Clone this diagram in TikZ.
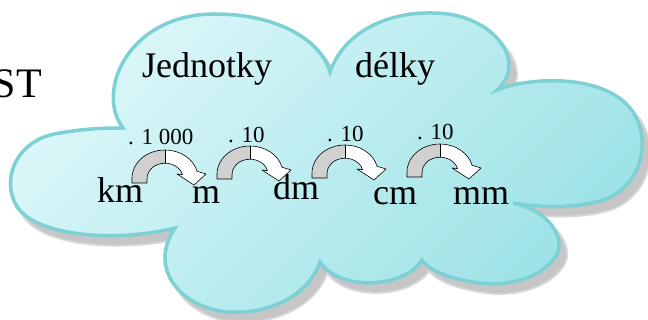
\documentclass[tikz,border=0pt]{standalone}
\usepackage{fontspec}
\setmainfont{Liberation Serif}
\definecolor{cloudedge}{RGB}{125,208,212}
\definecolor{cloudlight}{RGB}{220,247,249}
\definecolor{clouddark}{RGB}{155,226,229}
\definecolor{cloudshadow}{RGB}{198,198,198}
\definecolor{hopgray}{RGB}{208,208,208}

\newcommand\cloudpath{(123,128) .. controls (95,92) and (128,14) .. (215,14)
  .. controls (280,14) and (322,42) .. (330,72)
  .. controls (345,30) and (390,12) .. (432,13)
  .. controls (490,12) and (530,60) .. (497,90)
  .. controls (525,78) and (600,72) .. (630,108)
  .. controls (655,140) and (640,190) .. (600,201)
  .. controls (575,208) and (540,208) .. (513,203)
  .. controls (555,212) and (568,245) .. (553,260)
  .. controls (535,282) and (500,286) .. (480,283)
  .. controls (455,280) and (430,272) .. (422,260)
  .. controls (405,288) and (340,292) .. (320,262)
  .. controls (305,305) and (250,318) .. (215,310)
  .. controls (175,300) and (150,265) .. (175,228)
  .. controls (120,242) and (35,238) .. (16,205)
  .. controls (0,175) and (20,138) .. (60,133)
  .. controls (88,128) and (110,128) .. (123,128) -- cycle}
\newcommand\hoppath{(0,0) -- (0,5) arc[start angle=180, end angle=14, x radius=33, y radius=28]
  -- (74,9) -- (62,-2) -- (45,9) -- (50.5,8.4)
  arc[start angle=14, end angle=180, x radius=18, y radius=15] -- (15,0) -- cycle}

\tikzset{
  hop/.pic={
    \begin{scope}[x=1pt, y=1pt]
      \fill[white] \hoppath;
      \begin{scope}
        \clip (-2,-4) rectangle (33,40);
        \fill[hopgray] \hoppath;
      \end{scope}
      \draw[line width=0.9pt] (33,20) -- (33,33);
      \draw[line width=0.6pt, line join=round] \hoppath;
    \end{scope}
  }
}

\begin{document}
\begin{tikzpicture}[x=1pt, y=-1pt,
    unit/.style={font=\fontsize{36}{36}\selectfont, inner sep=0pt, anchor=base west},
    factor/.style={font=\fontsize{23}{23}\selectfont, inner sep=0pt, anchor=base west}]
  \path[use as bounding box, clip] (0,0) rectangle (648,320);
  \draw[cloudshadow!70, line width=4pt, shift={(7,9)}] \cloudpath;
  \fill[cloudshadow, shift={(7,9)}] \cloudpath;
  \shadedraw[left color=cloudlight, right color=clouddark, shading angle=45,
    draw=cloudedge, line width=3.5pt] \cloudpath;
  \node[unit, font=\fontsize{42}{42}\selectfont, anchor=base east] (st) at (42,98) {ST};
  \node[unit] (jednotky) at (142,78) {Jednotky};
  \node[unit] (delky) at (355,78) {délky};
  \node[unit] (km) at (97,203) {km};
  \node[unit] (m) at (192,204) {m};
  \node[unit] (dm) at (273,200) {dm};
  \node[unit] (cm) at (373,205) {cm};
  \node[unit] (mm) at (453,205) {mm};
  \node[factor] (kmm) at (128,145) {. 1 000};
  \node[factor] (mdm) at (228,143) {. 10};
  \node[factor] (dmcm) at (327,142) {. 10};
  \node[factor] (cmmm) at (417,140) {. 10};
  \pic at (132,183) {hop};
  \pic at (217,179) {hop};
  \pic at (312,178) {hop};
  \pic at (407,177) {hop};
\end{tikzpicture}
\end{document}
